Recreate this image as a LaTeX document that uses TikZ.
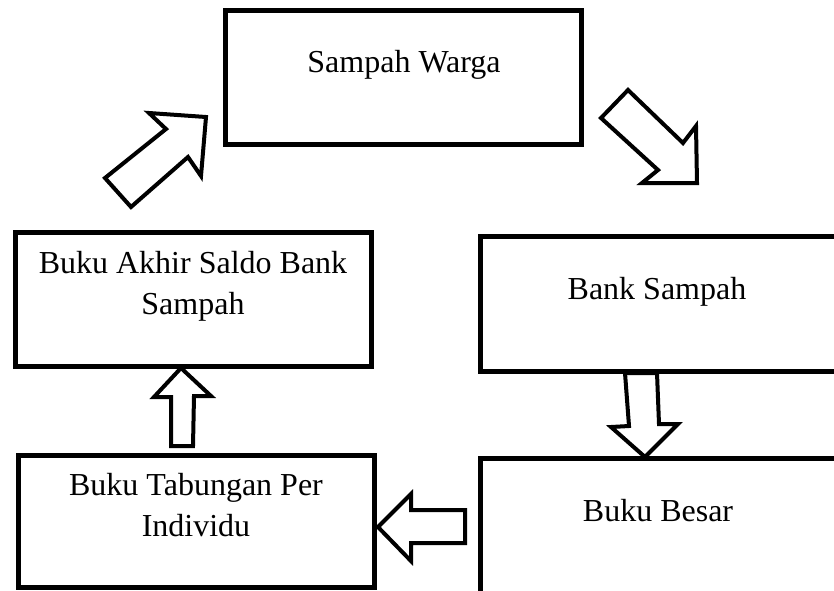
\documentclass[tikz,border=0pt]{standalone}
\usepackage{fontspec}
\setmainfont{Liberation Serif}
\begin{document}
\begin{tikzpicture}[x=1pt,y=-1pt,
  boxnode/.style={draw=black, line width=5pt, inner sep=0pt, rectangle},
  lbl/.style={inner sep=0pt, anchor=base, align=center,
    font=\fontsize{32}{41}\selectfont},
  blockarrow/.style={draw=black, fill=white, line width=4pt, line join=miter}]
\useasboundingbox (0,0) rectangle (834,590);
\clip (0,0) rectangle (834,590);
% boxes
\node[boxnode, minimum width=355.5pt, minimum height=133.2pt] (warga) at (403.25,77.4) {};
\node[boxnode, minimum width=355.5pt, minimum height=133.5pt] (akhir) at (193.25,299.25) {};
\node[boxnode, minimum width=356.5pt, minimum height=134.5pt] (bank) at (658.25,303.75) {};
\node[boxnode, minimum width=356.5pt, minimum height=135pt] (besar) at (658.25,525.5) {};
\node[boxnode, minimum width=356pt, minimum height=132pt] (tabungan) at (196,521) {};
% labels (base anchor = baseline of last line)
\node[lbl] (twarga) at (404,72) {Sampah Warga};
\node[lbl] (tbank) at (657,299) {Bank Sampah};
\node[lbl] (tbesar) at (658,521) {Buku Besar};
\node[lbl] (takhir) at (193,314) {Buku Akhir Saldo Bank\\Sampah};
\node[lbl] (ttabungan) at (196,536) {Buku Tabungan Per\\Individu};
% block arrows
\draw[blockarrow] (105,178) -- (166,129) -- (149,113) -- (206,117) -- (201,176) -- (188,157) -- (131,207) -- cycle;
\draw[blockarrow] (628,90) -- (601,118) -- (658,170) -- (642,183) -- (697,183) -- (696,126) -- (683,143) -- cycle;
\draw[blockarrow] (625,373) -- (657,373) -- (659,424) -- (678,424) -- (645,457) -- (611,427) -- (629,426) -- cycle;
\draw[blockarrow] (378,527) -- (411,494) -- (411,510) -- (465,510) -- (465,543) -- (411,543) -- (411,561) -- cycle;
\draw[blockarrow] (181,368) -- (211,396) -- (194,396) -- (193,446) -- (171,446) -- (171,397) -- (154,397) -- cycle;
\end{tikzpicture}
\end{document}
